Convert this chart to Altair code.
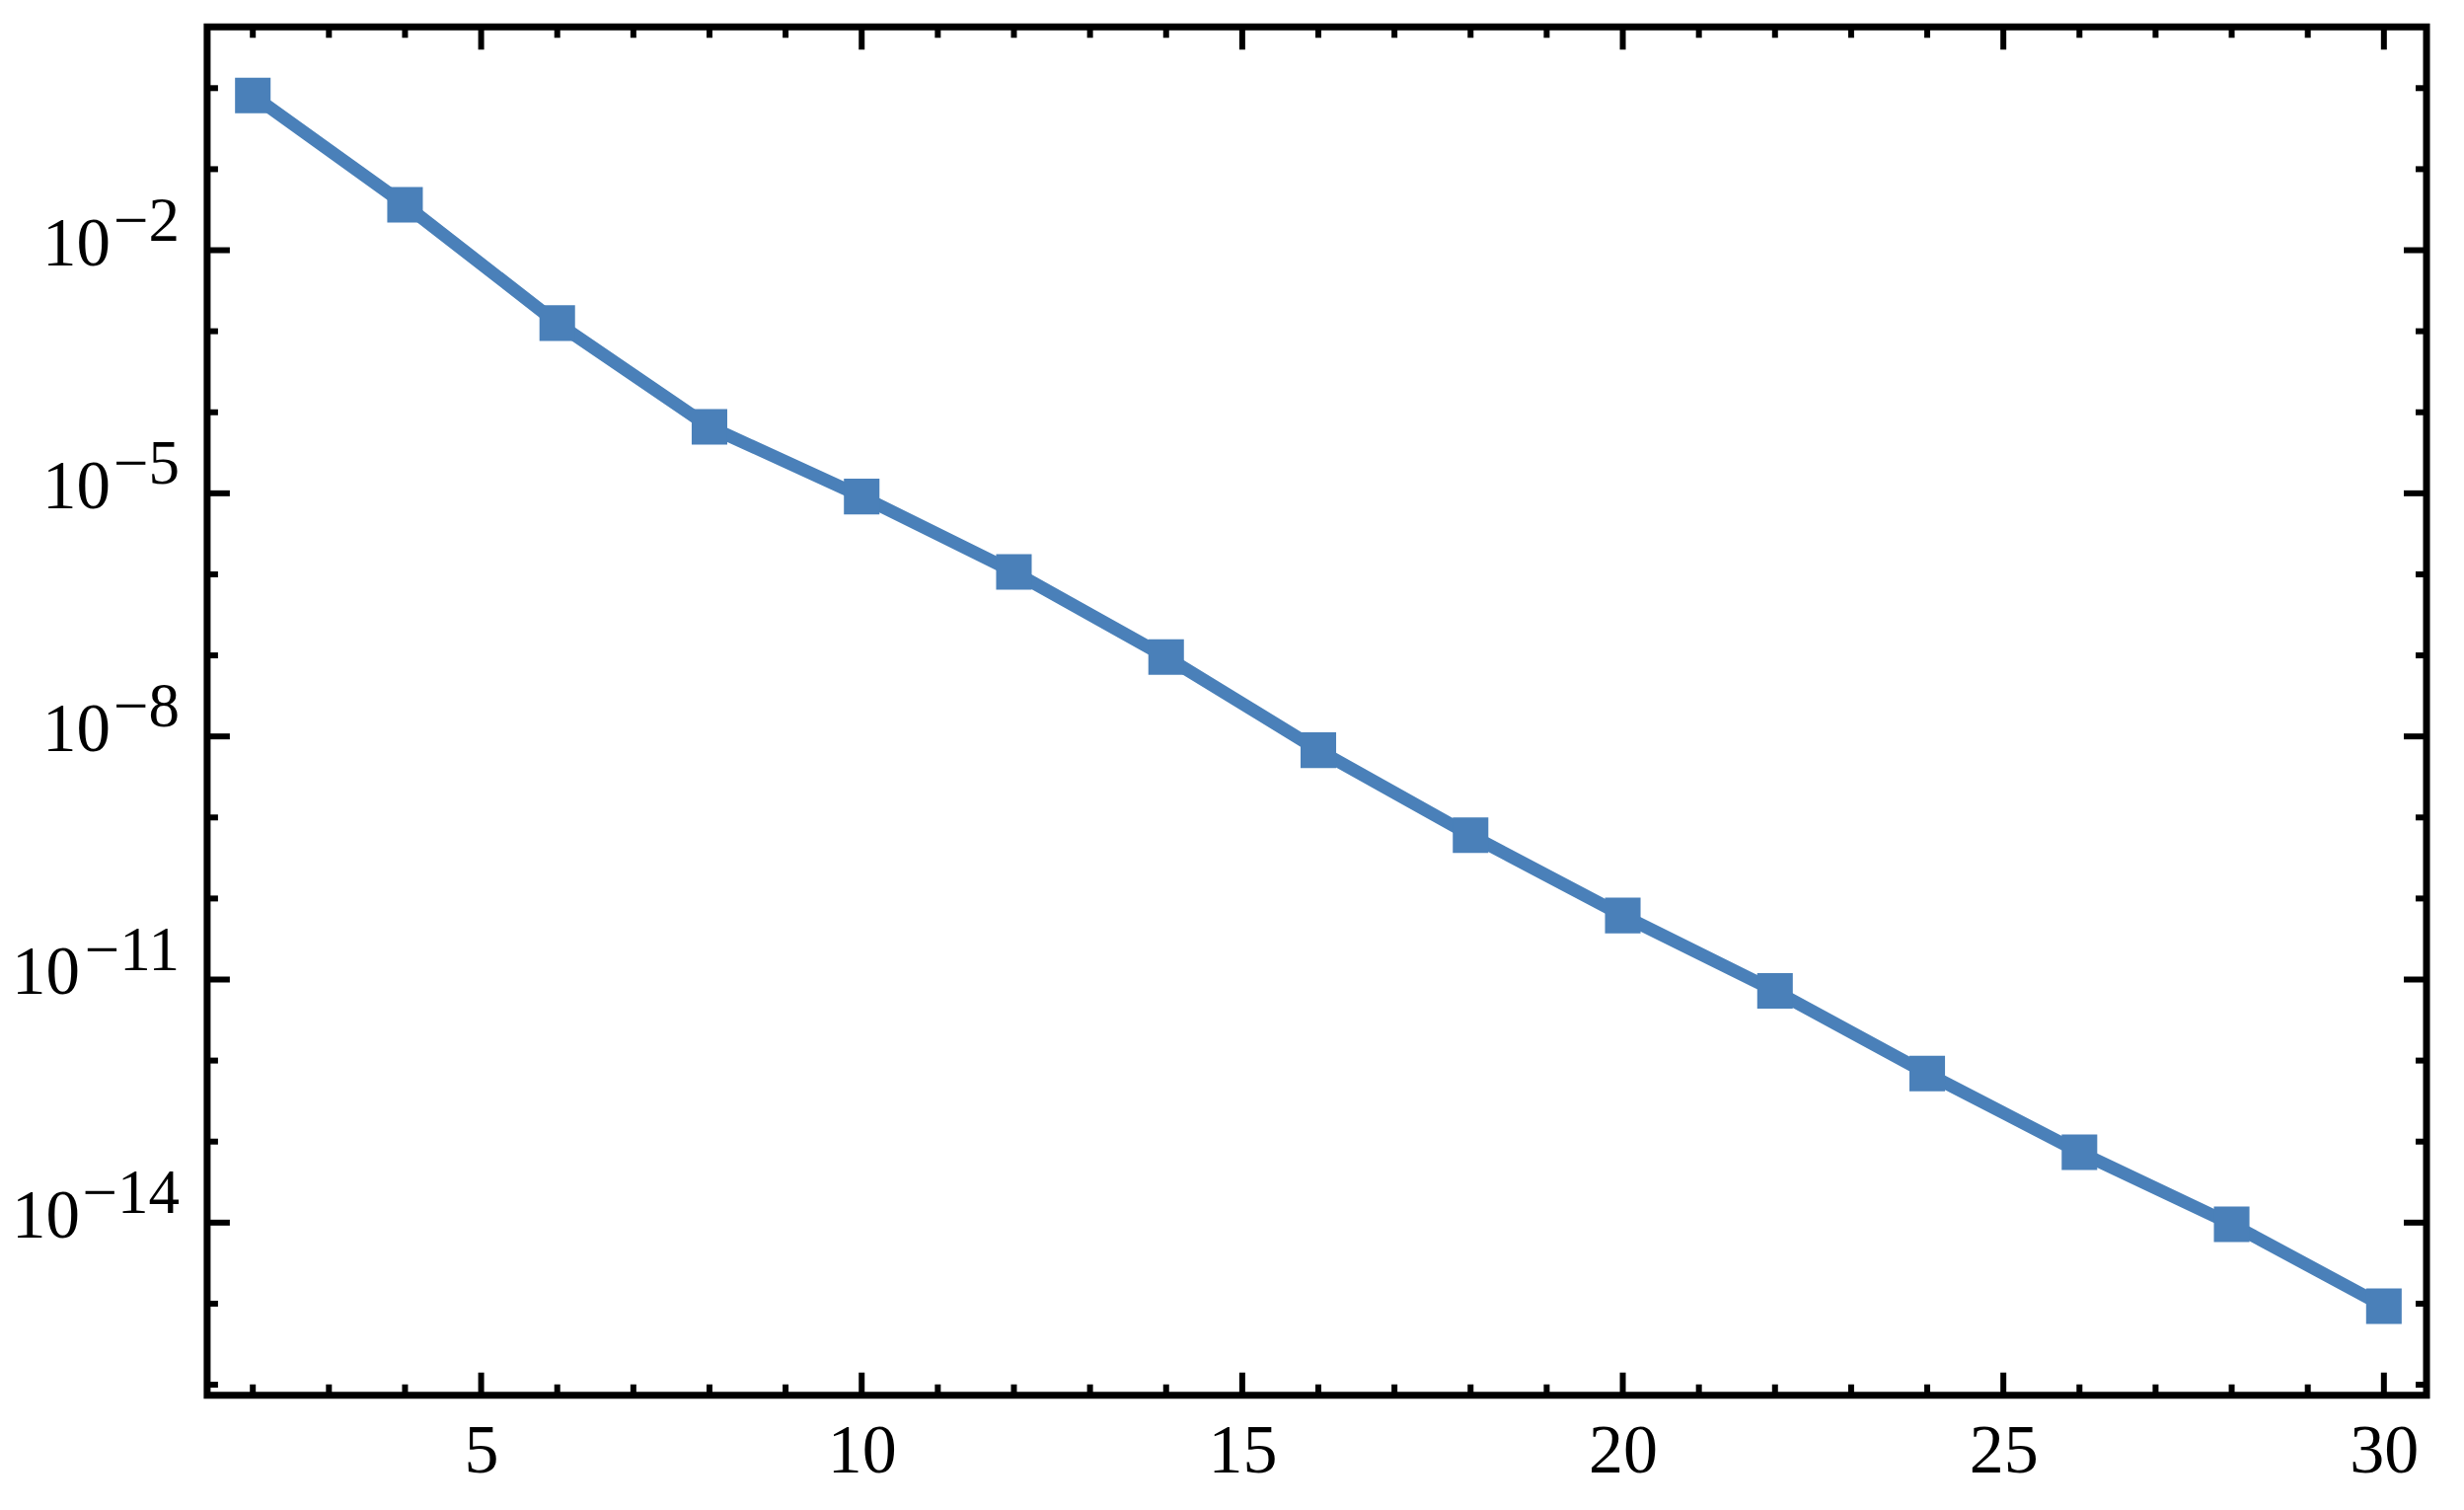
import altair as alt
import pandas as pd

# ---- data ----
n_vals = [2, 4, 6, 8, 10, 12, 14, 16, 18, 20, 22, 24, 26, 28, 30]
err_vals = [8.13e-1, 3.63e-2, 1.26e-3, 6.61e-5, 9.12e-6, 1.07e-6, 9.55e-8,
            6.76e-9, 6.03e-10, 6.17e-11, 7.24e-12, 6.92e-13, 7.41e-14,
            9.55e-15, 9.33e-16]

x_major = [5, 10, 15, 20, 25, 30]
x_minor = [2, 3, 4, 6, 7, 8, 9, 11, 12, 13, 14, 16, 17, 18, 19, 21, 22, 23, 24,
           26, 27, 28, 29]
y_major_exp = [-2, -5, -8, -11, -14]
y_minor_exp = [0, -1, -3, -4, -6, -7, -9, -10, -12, -13, -15, -16]

W, H = 2250, 1387
BLUE = "#4a80b9"
FONT = "Liberation Serif"

xscale = alt.Scale(domain=[1.40, 30.56], nice=False, zero=False)
yscale = alt.Scale(type="log", domain=[7.41e-17, 5.69], nice=False)
xaxis = alt.Axis(values=x_major, ticks=False, domain=False, grid=False,
                 labelFont=FONT, labelFontSize=70, labelColor="black",
                 labelPadding=23, title=None, labelFlush=False)

df = pd.DataFrame({"n": n_vals, "err": err_vals})
base = alt.Chart(df)

line = base.mark_line(color=BLUE, strokeWidth=13, clip=True).encode(
    x=alt.X("n:Q", scale=xscale, axis=xaxis),
    y=alt.Y("err:Q", scale=yscale, axis=None),
)
pts = base.mark_square(color=BLUE, size=1300, opacity=1).encode(
    x=alt.X("n:Q", scale=xscale, axis=xaxis),
    y=alt.Y("err:Q", scale=yscale, axis=None),
)

xmaj = alt.Chart(pd.DataFrame({"v": x_major}))
xmin = alt.Chart(pd.DataFrame({"v": x_minor}))
ymaj = alt.Chart(pd.DataFrame({"e": y_major_exp})).transform_calculate(v="pow(10, datum.e)")
ymin = alt.Chart(pd.DataFrame({"e": y_minor_exp})).transform_calculate(v="pow(10, datum.e)")

MAJ, MIN = 23, 11
tick_style = dict(color="black", strokeWidth=6)

def xticks(src, L):
    bot = src.mark_rule(**tick_style).encode(
        x=alt.X("v:Q", scale=xscale, axis=xaxis),
        y=alt.value(H), y2=alt.value(H - L))
    top = src.mark_rule(**tick_style).encode(
        x=alt.X("v:Q", scale=xscale, axis=xaxis),
        y=alt.value(0), y2=alt.value(L))
    return [bot, top]

def yticks(src, L):
    lef = src.mark_rule(**tick_style).encode(
        y=alt.Y("v:Q", scale=yscale, axis=None),
        x=alt.value(0), x2=alt.value(L))
    rig = src.mark_rule(**tick_style).encode(
        y=alt.Y("v:Q", scale=yscale, axis=None),
        x=alt.value(W), x2=alt.value(W - L))
    return [lef, rig]

# y tick labels: "10" with a raised exponent
exp_lbl = ymaj.transform_calculate(t="'\u2212' + toString(-datum.e)").mark_text(
    font=FONT, fontSize=63, align="right", baseline="alphabetic", dy=-10, color="black"
).encode(y=alt.Y("v:Q", scale=yscale, axis=None), x=alt.value(-28), text="t:N")

ten_short = ymaj.transform_filter("datum.e > -10").transform_calculate(t="'10'").mark_text(
    font=FONT, fontSize=69, align="right", baseline="alphabetic", dy=15, color="black"
).encode(y=alt.Y("v:Q", scale=yscale, axis=None), x=alt.value(-98), text="t:N")

ten_long = ymaj.transform_filter("datum.e <= -10").transform_calculate(t="'10'").mark_text(
    font=FONT, fontSize=69, align="right", baseline="alphabetic", dy=15, color="black"
).encode(y=alt.Y("v:Q", scale=yscale, axis=None), x=alt.value(-129), text="t:N")

layers = [line, pts] + xticks(xmaj, MAJ) + xticks(xmin, MIN) + yticks(ymaj, MAJ) + \
    yticks(ymin, MIN) + [exp_lbl, ten_short, ten_long]

chart = alt.layer(*layers).properties(
    width=W, height=H,
    autosize=alt.AutoSizeParams(type="none"),
    padding={"left": 202, "top": 19, "right": 30, "bottom": 110},
    background="white",
).configure_view(stroke="black", strokeWidth=7)

chart.save("out.html", embed_options={"renderer": "svg", "actions": False})
